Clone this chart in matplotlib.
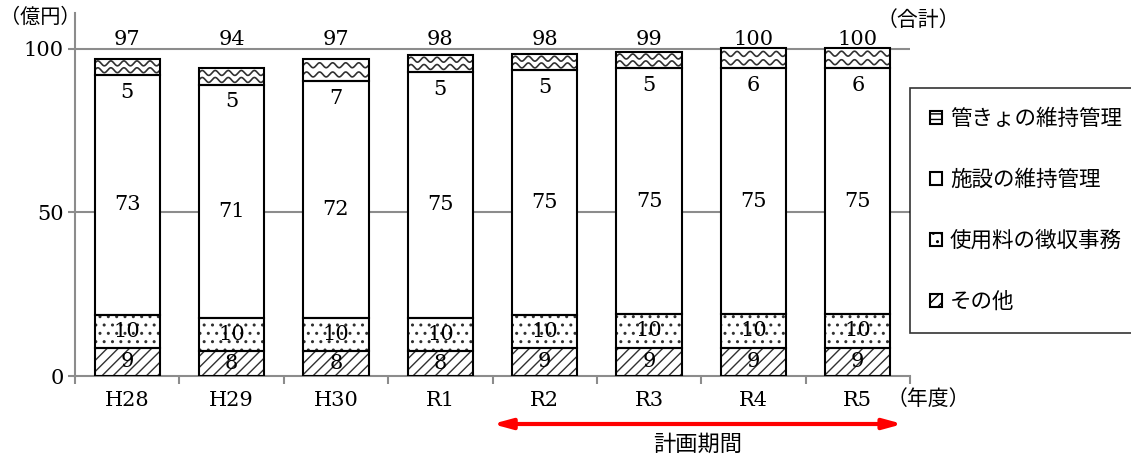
import matplotlib
matplotlib.use("Agg")
import matplotlib.pyplot as plt
import numpy as np
from matplotlib.patches import Patch

plt.rcParams['font.family'] = ['DejaVu Serif', 'Noto Sans CJK JP']
plt.rcParams['hatch.linewidth'] = 1.0

# data (億円)
years = ["H28", "H29", "H30", "R1", "R2", "R3", "R4", "R5"]
other = [8.6, 7.6, 7.6, 7.6, 8.6, 8.7, 8.7, 8.7]          # その他
fee = [10.2, 10.2, 10.2, 10.2, 10.1, 10.2, 10.2, 10.2]    # 使用料の徴収事務
facility = [73.2, 71.2, 72.4, 75.1, 74.8, 75.2, 75.2, 75.2]  # 施設の維持管理
pipe = [5.0, 5.1, 6.7, 5.3, 4.9, 5.0, 6.1, 6.2]           # 管きょの維持管理

names = ["その他", "使用料の徴収事務", "施設の維持管理", "管きょの維持管理"]
series = [other, fee, facility, pipe]
hatches = ["///", "..", None, "wave"]
# where each segment's label sits relative to its segment (fraction of height, offset)
label_pos = [(0.5, 0), (0.5, 0), (0.5, -3.0), (0.0, -5.2)]

jp = ['Noto Sans CJK JP']
num_size = 15

fig = plt.figure(figsize=(11.31, 4.55), dpi=100)
ax = fig.add_axes([75/1131, 1-376/455, 835/1131, 363/455])

x = np.arange(len(years))
w = 0.625
bottom = np.zeros(len(years))
for vals, h, (frac, off) in zip(series, hatches, label_pos):
    vals = np.array(vals)
    ax.bar(x, vals, w, bottom=bottom, color='white', edgecolor='#303030',
           linewidth=0, hatch=None if h == "wave" else h, zorder=2)
    outl = ax.bar(x, vals, w, bottom=bottom, fill=False, edgecolor='black',
                  linewidth=1.5, zorder=4)
    if h == "wave":
        # wavy pattern for 管きょ
        for rect in outl:
            x0, y0 = rect.get_x(), rect.get_y()
            ww, hh = rect.get_width(), rect.get_height()
            xs = np.linspace(x0, x0 + ww, 200)
            for f in (0.3, 0.72):
                ys = y0 + hh*f + 0.75*np.sin((xs - x0) / 0.125 * 2*np.pi)
                ln, = ax.plot(xs, ys, color='#303030', lw=1.2, zorder=3)
                ln.set_clip_path(rect)
    for xi, b, v in zip(x, bottom, vals):
        ax.text(xi, b + v*frac + off, f"{v:.0f}", ha='center', va='center',
                fontsize=num_size, zorder=5)
    bottom = bottom + vals

for xi, t in zip(x, bottom):
    ax.text(xi, 103.0, f"{t:.0f}", ha='center', va='center', fontsize=num_size,
            clip_on=False)

ax.set_xlim(-0.5, len(years) - 0.5)
ax.set_ylim(0, 111)
ax.set_yticks([0, 50, 100])
ax.set_yticklabels(["0", "50", "100"], fontsize=num_size)
ax.set_xticks(x)
ax.set_xticklabels(years, fontsize=num_size)
ax.set_xticks(np.arange(-0.5, len(years)), minor=True)
ax.tick_params(axis='x', which='major', length=0, pad=11)
ax.tick_params(axis='x', which='minor', length=6, width=1.5, color='#8c8c8c')
ax.tick_params(axis='y', length=5, width=1.5, color='#8c8c8c', pad=3)
for g in (50, 100):
    ax.axhline(g, color='#8c8c8c', lw=1.5, zorder=1)
for s in ('top', 'right'):
    ax.spines[s].set_visible(False)
for s in ('left', 'bottom'):
    ax.spines[s].set_color('#8c8c8c')
    ax.spines[s].set_linewidth(1.5)

fig.text(40/1131, 1-17/455, "（億円）", family=jp, fontsize=14.5, ha='center', va='center')
fig.text(918/1131, 1-20/455, "（合計）", family=jp, fontsize=15, ha='center', va='center')
fig.text(928/1131, 1-399/455, "（年度）", family=jp, fontsize=15, ha='center', va='center')

# 計画期間 arrow
ax.annotate("", xy=(3.5, 1-424/455), xytext=(7.43, 1-424/455),
            xycoords=('data', 'figure fraction'), textcoords=('data', 'figure fraction'),
            arrowprops=dict(arrowstyle='<|-|>,head_length=1.1,head_width=0.3',
                            color='#ff0000', lw=3, shrinkA=0, shrinkB=0))
ax.annotate("計画期間", xy=(5.47, 1-444/455), xycoords=('data', 'figure fraction'),
            family=jp, fontsize=16, ha='center', va='center')

handles = [Patch(facecolor='white', edgecolor='black', hatch=hh, linewidth=1.5)
           for hh in ["---", None, "..", "///"]]
leg = fig.legend(handles, names[::-1], loc='upper left',
                 bbox_to_anchor=(910/1131, 1-88/455), prop={'family': jp, 'size': 15.5},
                 frameon=True, fancybox=False, edgecolor='black', borderpad=0.95,
                 labelspacing=1.8, handlelength=0.55, handleheight=0.55,
                 handletextpad=0.35, borderaxespad=0)
leg.get_frame().set_linewidth(1.2)

fig.savefig("out.png", dpi=100)
